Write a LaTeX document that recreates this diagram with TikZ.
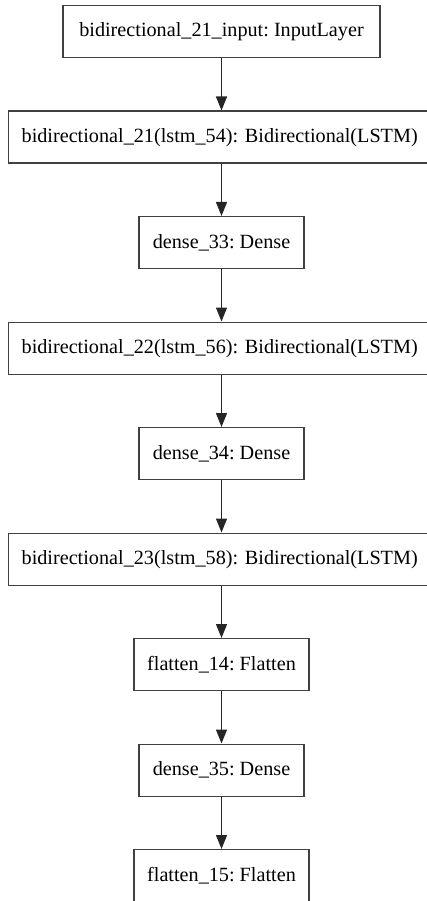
\documentclass[tikz,border=0pt]{standalone}
\usepackage{fontspec}
\setmainfont{Liberation Serif}
\usetikzlibrary{arrows.meta}
\begin{document}
\begin{tikzpicture}[x=1pt,y=-1pt,
  layer/.style={draw=black!75, line width=1.3pt, inner sep=0pt, minimum height=52pt,
    font=\fontsize{20.2}{24}\selectfont\frenchspacing, anchor=north, text=black},
  wide/.style={layer, minimum width=450pt, anchor=north west, text width=450pt, align=left},
  mid/.style={layer, minimum width=317pt},
  small/.style={layer, minimum width=165pt},
  flat/.style={layer, minimum width=175pt},
  conn/.style={draw=black!85, line width=1.3pt, -{Triangle[length=14pt,width=11pt]}}]
\useasboundingbox (0,0) rectangle (427,901);
\coordinate (cx) at (221.5,0);
\node[mid]   (n1) at (221.5,5)     {bidirectional\_21\_input: InputLayer};
\node[wide]  (n2) at (8,110.5) {\hspace*{13pt}bidirectional\_21(lstm\_54): Bidirectional(LSTM)};
\node[small] (n3) at (221.5,216)   {dense\_33: Dense};
\node[wide]  (n4) at (8,321.5) {\hspace*{13pt}bidirectional\_22(lstm\_56): Bidirectional(LSTM)};
\node[small] (n5) at (221.5,427)   {dense\_34: Dense};
\node[wide]  (n6) at (8,532.5) {\hspace*{13pt}bidirectional\_23(lstm\_58): Bidirectional(LSTM)};
\node[flat]  (n7) at (221.5,638)   {flatten\_14: Flatten};
\node[small] (n8) at (221.5,743.5) {dense\_35: Dense};
\node[flat]  (n9) at (221.5,849)   {flatten\_15: Flatten};
\foreach \a/\b in {n1/n2,n2/n3,n3/n4,n4/n5,n5/n6,n6/n7,n7/n8,n8/n9}
  \draw[conn] (\a.south -| cx) -- (\b.north -| cx);
\end{tikzpicture}
\end{document}
